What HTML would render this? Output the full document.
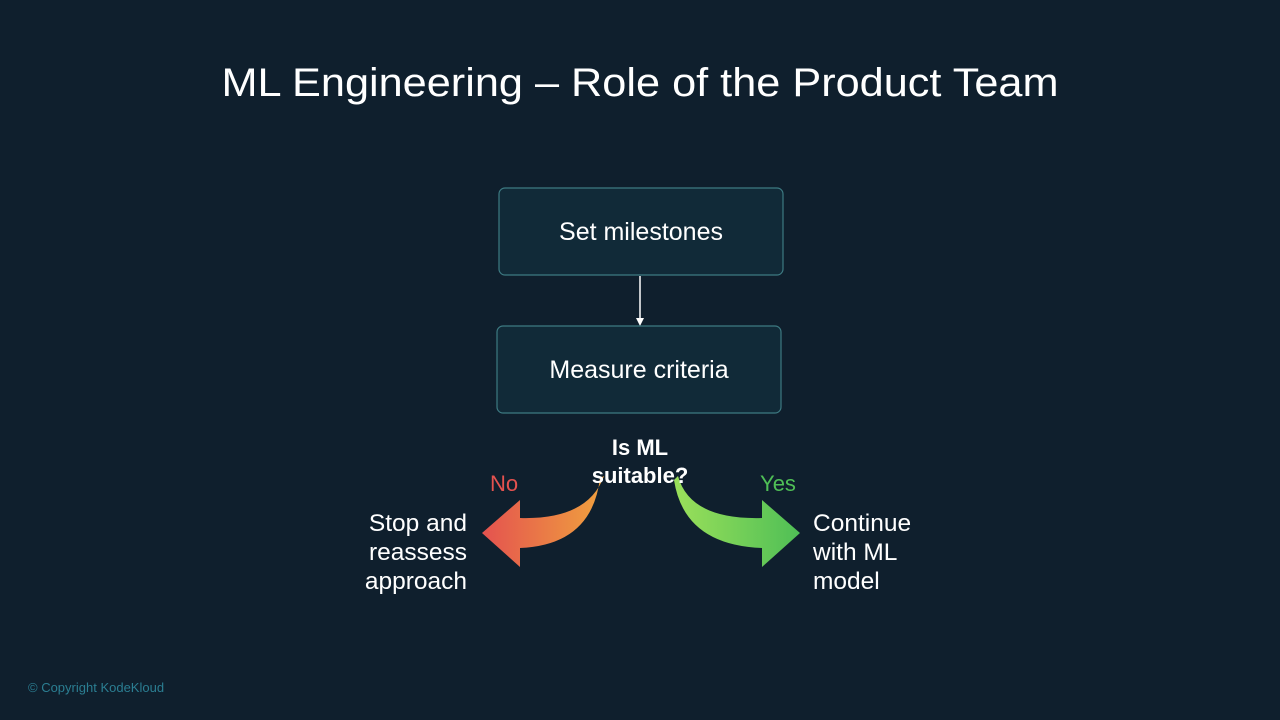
<!DOCTYPE html>
<html><head><meta charset="utf-8"><style>
html,body{margin:0;padding:0;background:#0f1f2d;width:1280px;height:720px;overflow:hidden}
svg text{font-family:"Liberation Sans",sans-serif}
</style></head><body>
<svg width="1280" height="720" viewBox="0 0 1280 720" xmlns="http://www.w3.org/2000/svg">
<defs>
<linearGradient id="gl" x1="0" y1="0" x2="1" y2="0"><stop offset="0" stop-color="#e4524f"/><stop offset="1" stop-color="#f0a23e"/></linearGradient>
<linearGradient id="gr" x1="0" y1="0" x2="1" y2="0"><stop offset="0" stop-color="#9be05a"/><stop offset="1" stop-color="#4fbf56"/></linearGradient>
</defs>
<rect width="1280" height="720" fill="#0f1f2d"/>
<text x="640" y="96" text-anchor="middle" font-size="40" fill="#ffffff" textLength="837" lengthAdjust="spacingAndGlyphs">ML Engineering – Role of the Product Team</text>
<rect x="499" y="188" width="284" height="87" rx="6" fill="#112a38" stroke="#3d7a82" stroke-width="1.2"/>
<text x="641" y="240" text-anchor="middle" font-size="25" fill="#ffffff">Set milestones</text>
<line x1="640" y1="276" x2="640" y2="320" stroke="#fff" stroke-width="1.5"/>
<polygon points="636,318 644,318 640,326" fill="#fff"/>
<rect x="497" y="326" width="284" height="87" rx="6" fill="#112a38" stroke="#3d7a82" stroke-width="1.2"/>
<text x="639" y="378" text-anchor="middle" font-size="25" fill="#ffffff">Measure criteria</text>
<path d="M604,476 Q588,520 520,518 L520,500 L482,533 L520,567 L520,548 Q592,545 600,478 Z" fill="url(#gl)"/>
<path d="M678,476 Q690,520 762,518 L762,500 L800,533 L762,567 L762,548 Q684,545 674,480 Z" fill="url(#gr)"/>
<text x="640" y="455" text-anchor="middle" font-size="22" font-weight="bold" fill="#ffffff">Is ML</text>
<text x="640" y="483" text-anchor="middle" font-size="22" font-weight="bold" fill="#ffffff">suitable?</text>
<text x="504" y="491" text-anchor="middle" font-size="22" fill="#e4524f">No</text>
<text x="778" y="491" text-anchor="middle" font-size="22" fill="#4fbf56">Yes</text>
<g font-size="24.5" fill="#ffffff" text-anchor="end">
<text x="467" y="531">Stop and</text><text x="467" y="560">reassess</text><text x="467" y="589">approach</text>
</g>
<g font-size="24.5" fill="#ffffff">
<text x="813" y="531">Continue</text><text x="813" y="560">with ML</text><text x="813" y="589">model</text>
</g>
<text x="28" y="692" font-size="13" fill="#2b7e92">© Copyright KodeKloud</text>
</svg>
</body></html>
